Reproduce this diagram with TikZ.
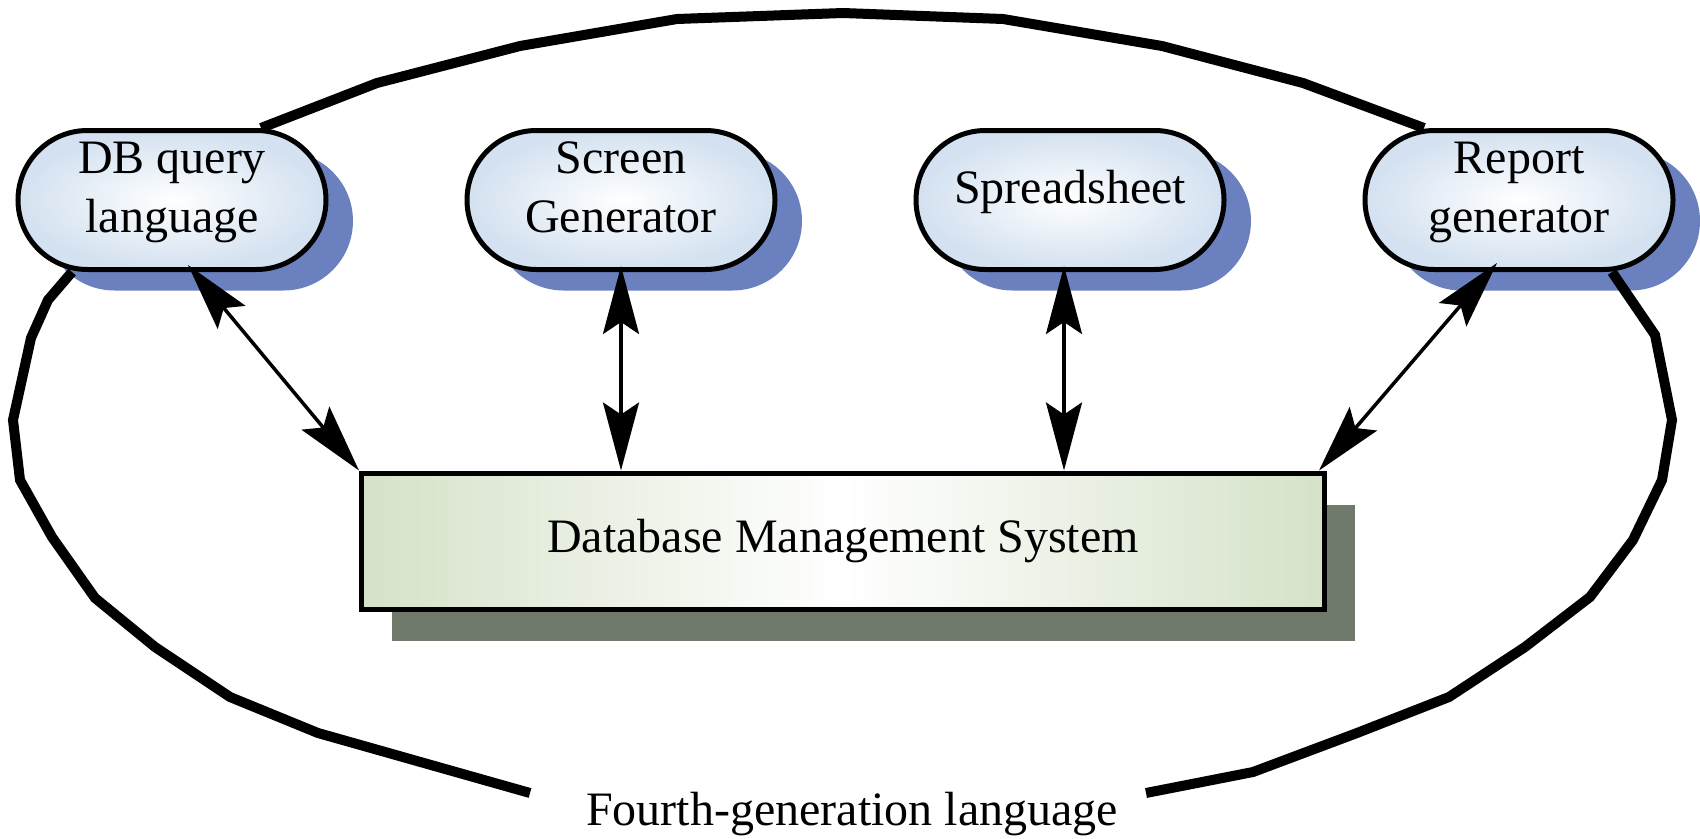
\documentclass[tikz,border=0pt]{standalone}
\usepackage{fontspec}
\setmainfont{Liberation Serif}
\usetikzlibrary{arrows.meta, positioning, shadows}

\definecolor{bubbleblue}{RGB}{211,225,240}
\definecolor{bubbleshadow}{RGB}{107,128,190}
\definecolor{boxgreen}{RGB}{213,226,201}
\definecolor{boxshadow}{RGB}{111,122,106}

\begin{document}
\begin{tikzpicture}[x=1pt, y=1pt, node distance=136pt, every node/.style={font=\fontsize{48}{59}\selectfont}, align=center]

    \useasboundingbox (0,0) rectangle (1700,-838);

    % Define block styles
    \tikzstyle{tool} = [rectangle, rounded corners=69.5pt, minimum width=308pt, minimum height=139pt, text centered, text depth=26pt, draw=black, line width=5pt, inner color=white, outer color=bubbleblue, drop shadow={shadow xshift=27pt, shadow yshift=-21pt, fill=bubbleshadow, opacity=1}]
    \tikzstyle{dbbox} = [rectangle, minimum width=963pt, minimum height=136pt, text centered, draw=black, line width=5pt, left color=boxgreen, right color=boxgreen, middle color=white, drop shadow={shadow xshift=30pt, shadow yshift=-32pt, fill=boxshadow, opacity=1}]
    \tikzstyle{arrow} = [line width=3.5pt, {Stealth[length=68pt, width=36pt, inset=12pt]}-{Stealth[length=68pt, width=36pt, inset=12pt]}]
    \tikzstyle{fglline} = [line width=10pt]

    % Place nodes
    \node (dbq) [tool] at (172,-200) {DB query\\language};
    \node (scr) [tool, right=of dbq] {Screen\\Generator};
    \node (spr) [tool, right=of scr] {Spreadsheet};
    \node (rep) [tool, right=of spr] {Report\\generator};
    \node (dbms) [dbbox] at (843,-541) {Database Management System};
    \node (fgl) [anchor=base] at (852,-825) {Fourth-generation language};
    \coordinate (leftend) at (530,-793);
    \coordinate (rightend) at (1146,-793);

    % Draw arrows
    \draw [arrow] ([xshift=16pt, yshift=7pt]dbq.south) -- (dbms.north west);
    \draw [arrow] ([yshift=6pt]scr.south) -- (scr.south |- dbms.north);
    \draw [arrow] ([xshift=-6pt, yshift=6pt]spr.south) -- ([xshift=-6pt]spr.south |- dbms.north);
    \draw [arrow] ([xshift=-22pt, yshift=9pt]rep.south) -- ([xshift=-8pt]dbms.north east);

    % Draw the ring
    \draw [fglline] ([xshift=89pt]dbq.north) -- (377,-83) -- (520,-46) -- (677,-19) -- (843,-13) -- (1003,-19) -- (1162,-46) -- (1303,-83) -- ([xshift=-95pt]rep.north);
    \draw [fglline] ([xshift=-100pt]dbq.south) -- (48,-300) -- (31,-338) -- (13,-420) -- (20,-480) -- (52,-537) -- (95,-598) -- (155,-647) -- (230,-697) -- (318,-733) -- (leftend);
    \draw [fglline] ([xshift=93pt]rep.south) -- (1655,-335) -- (1672,-420) -- (1662,-480) -- (1633,-540) -- (1590,-597) -- (1525,-647) -- (1449,-697) -- (1357,-733) -- (1253,-772) -- (rightend);

\end{tikzpicture}
\end{document}
